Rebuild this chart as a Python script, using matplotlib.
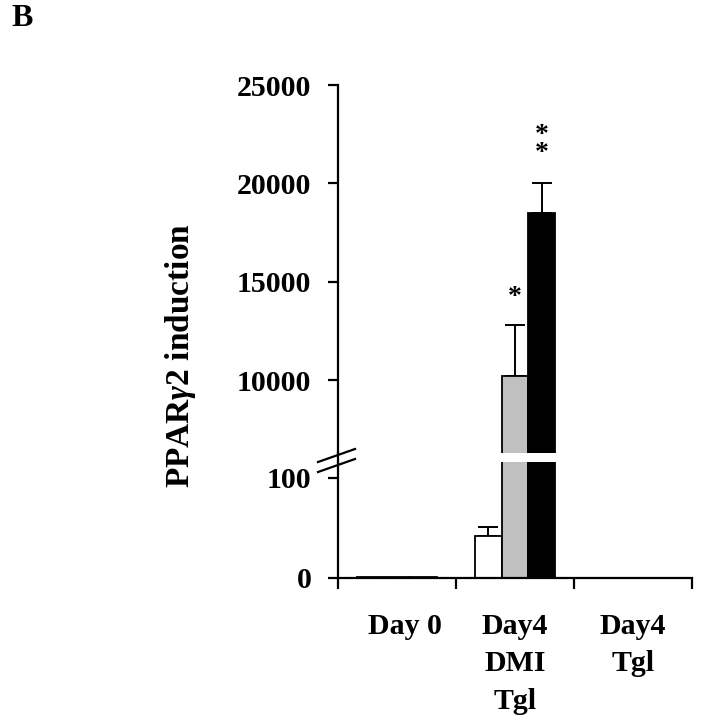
import matplotlib
matplotlib.use("Agg")
import matplotlib.pyplot as plt
import numpy as np
from matplotlib.lines import Line2D
from matplotlib.transforms import ScaledTranslation

plt.rcParams['font.family'] = ['Liberation Serif', 'DejaVu Serif']
plt.rcParams['font.weight'] = 'bold'
plt.rcParams['mathtext.fontset'] = 'custom'
plt.rcParams['mathtext.it'] = 'Liberation Serif:italic:bold'
plt.rcParams['mathtext.rm'] = 'Liberation Serif:bold'

categories = ["Day 0", "Day4\nDMI\nTgl", "Day4\nTgl"]
series_white = [1, 42, np.nan]
series_gray = [1, 10200, np.nan]
series_black = [1, 18500, np.nan]
err_white = [0, 9, 0]
err_gray = [0, 2600, 0]
err_black = [0, 1500, 0]
stars_gray = ["", "*", ""]
stars_black = ["", "*\n*", ""]
top_ticks = [10000, 15000, 20000, 25000]
bottom_ticks = [0, 100]

W, H = 702, 725
fig = plt.figure(figsize=(W / 100, H / 100), dpi=100)

left = 338 / W
right = 692 / W
ax_top = fig.add_axes([left, 1 - 453 / H, right - left, (453 - 85) / H])
ax_bot = fig.add_axes([left, 1 - 578 / H, right - left, (578 - 462) / H])

x = np.arange(len(categories))
bw = 0.225
colors = ["white", "#c0c0c0", "black"]
series = [series_white, series_gray, series_black]
errs = [err_white, err_gray, err_black]
offsets = [-bw, 0, bw]

fs = 21.5
for ax in (ax_top, ax_bot):
    for s, e, c, o in zip(series, errs, colors, offsets):
        vals = np.array(s, dtype=float)
        ax.bar(x + o, vals, bw, color=c, edgecolor="black", linewidth=1.3, zorder=2)
        ev = np.array(e, dtype=float)
        mask = (ev > 0) & ~np.isnan(vals)
        ax.errorbar((x + o)[mask], vals[mask], yerr=[np.zeros(mask.sum()), ev[mask]],
                    fmt="none", ecolor="black", elinewidth=1.4, capsize=7, capthick=1.4, zorder=1)
    ax.set_xlim(-0.5, 2.5)
    for sp in ("top", "right"):
        ax.spines[sp].set_visible(False)
    ax.spines["left"].set_linewidth(1.6)
    ax.tick_params(axis="y", direction="out", length=7.2, width=1.6, labelsize=fs, pad=12)

ax_top.set_ylim(10000 - (453 - 380) / 98.7 * 5000, 25000)
ax_top.spines["bottom"].set_visible(False)
ax_top.set_yticks(top_ticks)
ax_top.set_xticks([])

ax_bot.set_ylim(0, (578 - 462))
ax_bot.set_yticks(bottom_ticks)
ax_bot.spines["bottom"].set_linewidth(1.6)
ax_bot.set_xticks(x)
ax_bot.set_xticklabels(categories, fontsize=fs, linespacing=1.5, va="top")
ax_bot.tick_params(axis="x", length=0, pad=25)
ax_bot.set_xticks([-0.5, 0.5, 1.5, 2.5], minor=True)
ax_bot.tick_params(axis="x", which="minor", direction="out", length=8, width=1.6)
lbl0 = ax_bot.get_xticklabels()[0]
lbl0.set_transform(lbl0.get_transform() + ScaledTranslation(0.08, 0, fig.dpi_scale_trans))

# significance stars
for i in range(len(categories)):
    if stars_gray[i]:
        ax_top.text(x[i] + offsets[1], series_gray[i] + err_gray[i] + 750, stars_gray[i],
                    ha="center", va="bottom", fontsize=20, linespacing=0.64)
    if stars_black[i]:
        ax_top.text(x[i] + offsets[2], series_black[i] + err_black[i] + 900, stars_black[i],
                    ha="center", va="bottom", fontsize=20, linespacing=0.64)

# axis continuation and break marks
fig.add_artist(Line2D([left, left], [1 - 462 / H, 1 - 453 / H], transform=fig.transFigure,
                      color="black", linewidth=1.6))
for y0 in (462, 472):
    fig.add_artist(Line2D([318 / W, 355 / W], [1 - y0 / H, 1 - (y0 - 13) / H],
                          transform=fig.transFigure, color="black", linewidth=1.6))

fig.text(181 / W, 1 - 356 / H, r"PPAR$\gamma$2 induction", rotation=90, ha="center", va="center",
         fontsize=24)
fig.text(22 / W, 1 - 18 / H, "B", ha="center", va="center", fontsize=23)

fig.savefig("out.png", dpi=100)
